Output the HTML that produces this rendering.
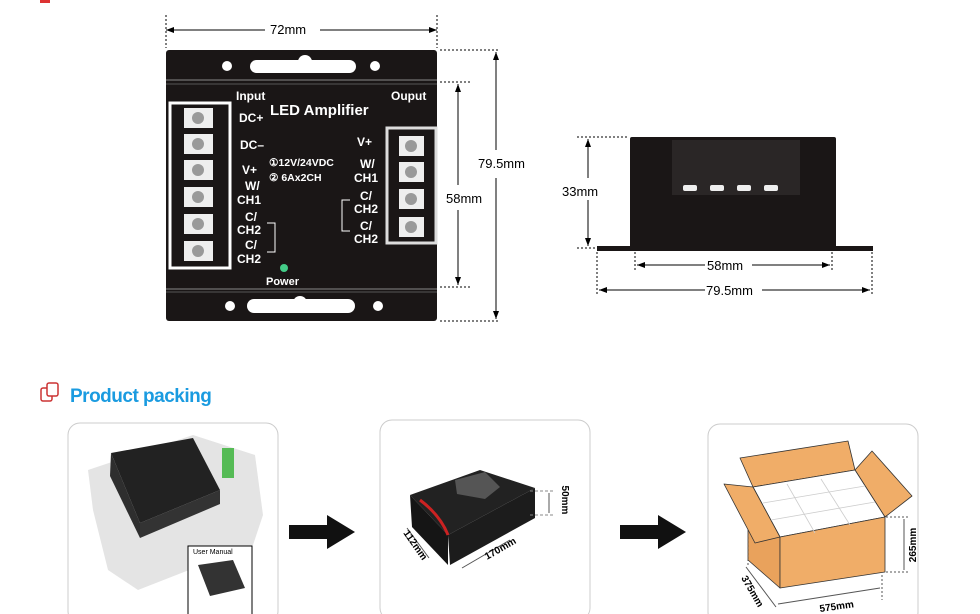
<!DOCTYPE html>
<html><head><style>body{margin:0;background:#fff}svg{display:block;font-family:"Liberation Sans",sans-serif}</style></head><body>
<svg width="980" height="614" viewBox="0 0 980 614" xmlns="http://www.w3.org/2000/svg">
<rect x="40" y="0" width="10" height="3" fill="#d33"/>
<g stroke="#000" stroke-width="1" fill="none">
<line x1="166" y1="15" x2="166" y2="48" stroke-dasharray="2,2"/>
<line x1="437" y1="15" x2="437" y2="48" stroke-dasharray="2,2"/>
<line x1="166" y1="30" x2="265" y2="30"/><line x1="320" y1="30" x2="437" y2="30"/>
<line x1="440" y1="50" x2="500" y2="50" stroke-dasharray="2,2"/>
<line x1="440" y1="321" x2="500" y2="321" stroke-dasharray="2,2"/>
<line x1="440" y1="82" x2="470" y2="82" stroke-dasharray="2,2"/>
<line x1="440" y1="287" x2="470" y2="287" stroke-dasharray="2,2"/>
<line x1="496" y1="52" x2="496" y2="150"/><line x1="496" y1="178" x2="496" y2="319"/>
<line x1="458" y1="84" x2="458" y2="185"/><line x1="458" y1="210" x2="458" y2="285"/>
</g>
<g fill="#000">
<path d="M166 30l8-3v6z M437 30l-8-3v6z M496 52l-3 8h6z M496 319l-3-8h6z M458 84l-3 8h6z M458 285l-3-8h6z"/>
</g>
<text x="270" y="34" font-size="13">72mm</text>
<text x="478" y="168" font-size="13">79.5mm</text>
<text x="446" y="203" font-size="13">58mm</text>
<rect x="166" y="50" width="271" height="271" rx="3" fill="#1a1616"/>
<line x1="166" y1="80" x2="437" y2="80" stroke="#888" stroke-width="1"/>
<line x1="166" y1="84" x2="437" y2="84" stroke="#555"/>
<line x1="166" y1="289" x2="437" y2="289" stroke="#888"/>
<line x1="166" y1="292" x2="437" y2="292" stroke="#555"/>
<g fill="#fff"><circle cx="227" cy="66" r="5"/><circle cx="375" cy="66" r="5"/><rect x="250" y="60" width="106" height="13" rx="6.5"/><circle cx="305" cy="62" r="7"/>
<circle cx="230" cy="306" r="5"/><circle cx="378" cy="306" r="5"/><rect x="247" y="299" width="108" height="14" rx="7"/><circle cx="300" cy="303" r="7"/></g>
<rect x="170" y="103" width="60" height="165" fill="none" stroke="#fff" stroke-width="3"/>
<g fill="#eee">
<rect x="184" y="108" width="29" height="20"/><rect x="184" y="134" width="29" height="20"/><rect x="184" y="160" width="29" height="20"/><rect x="184" y="187" width="29" height="20"/><rect x="184" y="214" width="29" height="20"/><rect x="184" y="241" width="29" height="20"/>
</g>
<g fill="#999"><circle cx="198" cy="118" r="6"/><circle cx="198" cy="144" r="6"/><circle cx="198" cy="170" r="6"/><circle cx="198" cy="197" r="6"/><circle cx="198" cy="224" r="6"/><circle cx="198" cy="251" r="6"/></g>
<rect x="387" y="128" width="49" height="115" fill="none" stroke="#ddd" stroke-width="3"/>
<g fill="#eee"><rect x="399" y="136" width="25" height="20"/><rect x="399" y="162" width="25" height="20"/><rect x="399" y="189" width="25" height="20"/><rect x="399" y="217" width="25" height="20"/></g>
<g fill="#999"><circle cx="411" cy="146" r="6"/><circle cx="411" cy="172" r="6"/><circle cx="411" cy="199" r="6"/><circle cx="411" cy="227" r="6"/></g>
<g fill="#fff" font-weight="bold" font-size="12">
<text x="236" y="100">Input</text><text x="391" y="100">Ouput</text>
<text x="270" y="115" font-size="15">LED Amplifier</text>
<text x="239" y="122">DC+</text><text x="240" y="149">DC–</text><text x="242" y="174">V+</text>
<text x="245" y="190">W/</text><text x="237" y="204">CH1</text>
<text x="245" y="221">C/</text><text x="237" y="234">CH2</text>
<text x="245" y="249">C/</text><text x="237" y="263">CH2</text>
<text x="269" y="166" font-size="10.5">①12V/24VDC</text><text x="269" y="181" font-size="10.5">② 6Ax2CH</text>
<text x="357" y="146">V+</text><text x="360" y="168">W/</text><text x="354" y="182">CH1</text>
<text x="360" y="200">C/</text><text x="354" y="213">CH2</text><text x="360" y="230">C/</text><text x="354" y="243">CH2</text>
<text x="266" y="285" font-size="11">Power</text>
</g>
<path d="M267 223h8v29h-8 M350 200h-8v31h8" stroke="#fff" fill="none"/>
<circle cx="284" cy="268" r="4" fill="#4c8"/>
<rect x="630" y="137" width="206" height="112" rx="2" fill="#1a1616"/>
<rect x="672" y="140" width="128" height="55" fill="#2a2626"/>
<g fill="#eee"><rect x="683" y="185" width="14" height="6" rx="2"/><rect x="710" y="185" width="14" height="6" rx="2"/><rect x="737" y="185" width="14" height="6" rx="2"/><rect x="764" y="185" width="14" height="6" rx="2"/></g>
<rect x="597" y="246" width="276" height="5" fill="#1a1616"/>
<g stroke="#000" fill="none">
<line x1="577" y1="137" x2="628" y2="137" stroke-dasharray="2,2"/><line x1="577" y1="248" x2="595" y2="248" stroke-dasharray="2,2"/>
<line x1="588" y1="139" x2="588" y2="178"/><line x1="588" y1="200" x2="588" y2="246"/>
<line x1="635" y1="252" x2="635" y2="272" stroke-dasharray="2,2"/><line x1="832" y1="252" x2="832" y2="272" stroke-dasharray="2,2"/>
<line x1="597" y1="252" x2="597" y2="296" stroke-dasharray="2,2"/><line x1="872" y1="252" x2="872" y2="296" stroke-dasharray="2,2"/>
<line x1="637" y1="265" x2="705" y2="265"/><line x1="752" y1="265" x2="830" y2="265"/>
<line x1="599" y1="290" x2="705" y2="290"/><line x1="762" y1="290" x2="870" y2="290"/>
</g>
<path d="M588 139l-3 8h6z M588 246l-3-8h6z M637 265l8-3v6z M830 265l-8-3v6z M599 290l8-3v6z M870 290l-8-3v6z"/>
<text x="562" y="196" font-size="13">33mm</text><text x="707" y="270" font-size="13">58mm</text><text x="706" y="295" font-size="13">79.5mm</text>
<rect x="41" y="388" width="11" height="13" rx="2" fill="none" stroke="#c33" stroke-width="1.5"/>
<rect x="47" y="383" width="11" height="13" rx="2" fill="#fff" stroke="#c33" stroke-width="1.5"/>
<text x="70" y="402" font-size="19" fill="#1a9be0" font-weight="bold" letter-spacing="-0.5">Product packing</text>
<g fill="#fff" stroke="#ccc"><rect x="68" y="423" width="210" height="200" rx="12"/><rect x="380" y="420" width="210" height="200" rx="12"/><rect x="708" y="424" width="210" height="200" rx="12"/></g>
<!-- card1 -->
<path d="M88 470l105-35 62 20 8 60-10 30-115 45-30-20-15-60z" fill="#e4e4e4"/>
<path d="M111 453l82-15 27 52-80 33z" fill="#222"/>
<path d="M111 453l29 70v15l-30-62z" fill="#2e2e2e"/>
<path d="M140 523l80-33v14l-80 34z" fill="#333"/>
<rect x="222" y="448" width="12" height="30" fill="#5b5"/>
<rect x="188" y="546" width="64" height="70" fill="#fff" stroke="#000"/><text x="193" y="554" font-size="7">User Manual</text>
<path d="M198 565l35-5 12 28-35 8z" fill="#333"/>
<!-- card2 -->
<path d="M410 495l70-25 55 18-87 47z" fill="#222"/>
<path d="M410 495l38 40v30l-36-38z" fill="#151515"/>
<path d="M448 535l87-47v30l-85 47z" fill="#1c1c1c"/>
<path d="M420 500q20 15 28 35" stroke="#c22" stroke-width="3" fill="none"/>
<path d="M455 480l30-8 15 15-15 12-28-5z" fill="#555"/>
<g stroke="#888" stroke-dasharray="3,2"><line x1="530" y1="491" x2="555" y2="491"/><line x1="530" y1="515" x2="555" y2="515"/></g>
<line x1="549" y1="493" x2="549" y2="513" stroke="#555"/>
<path d="M407 528l22 30 M462 568l48-28" stroke="#555"/>
<text x="562" y="500" font-size="10" font-weight="bold" transform="rotate(90 562 500)" text-anchor="middle">50mm</text>
<text x="403" y="533" font-size="10" font-weight="bold" transform="rotate(55 403 533)">112mm</text>
<text x="487" y="560" font-size="10" font-weight="bold" transform="rotate(-30 487 560)">170mm</text>
<!-- card3 -->
<g stroke="#333" stroke-width="0.8" stroke-linejoin="round">
<path d="M740 458l108-17 7 29-102 17z" fill="#f0ad68"/>
<path d="M855 470l17-19 40 45-27 21z" fill="#f0ad68"/>
<path d="M753 487l102-17 30 47-105 20z" fill="#fff"/>
<path d="M748 530l32 7v51l-32-28z" fill="#e9a25c"/>
<path d="M780 537l105-20v55l-105 16z" fill="#f0ad68"/>
<path d="M724 484l29 3 27 50-25 6z" fill="#f0ad68"/>
</g>
<g stroke="#ccc" stroke-width="0.8"><line x1="763" y1="503" x2="865" y2="486"/><line x1="771" y1="520" x2="875" y2="502"/><line x1="787" y1="484" x2="815" y2="533"/><line x1="821" y1="479" x2="850" y2="525"/></g>
<g stroke="#555" stroke-dasharray="2,2"><line x1="886" y1="517" x2="908" y2="517"/><line x1="886" y1="572" x2="908" y2="572"/><line x1="748" y1="535" x2="748" y2="565"/><line x1="882" y1="575" x2="882" y2="600"/></g>
<line x1="904" y1="519" x2="904" y2="570" stroke="#555"/>
<path d="M746 567l30 40 M778 604l102-16" stroke="#555"/>
<text x="916" y="545" font-size="10" font-weight="bold" transform="rotate(-90 916 545)" text-anchor="middle">265mm</text>
<text x="741" y="578" font-size="10" font-weight="bold" transform="rotate(60 741 578)">375mm</text>
<text x="820" y="612" font-size="10" font-weight="bold" transform="rotate(-8 820 612)">575mm</text>
<path d="M289 525h38v-10l28 17-28 17v-10h-38z" fill="#111"/>
<path d="M620 525h38v-10l28 17-28 17v-10h-38z" fill="#111"/>
</svg>
</body></html>
